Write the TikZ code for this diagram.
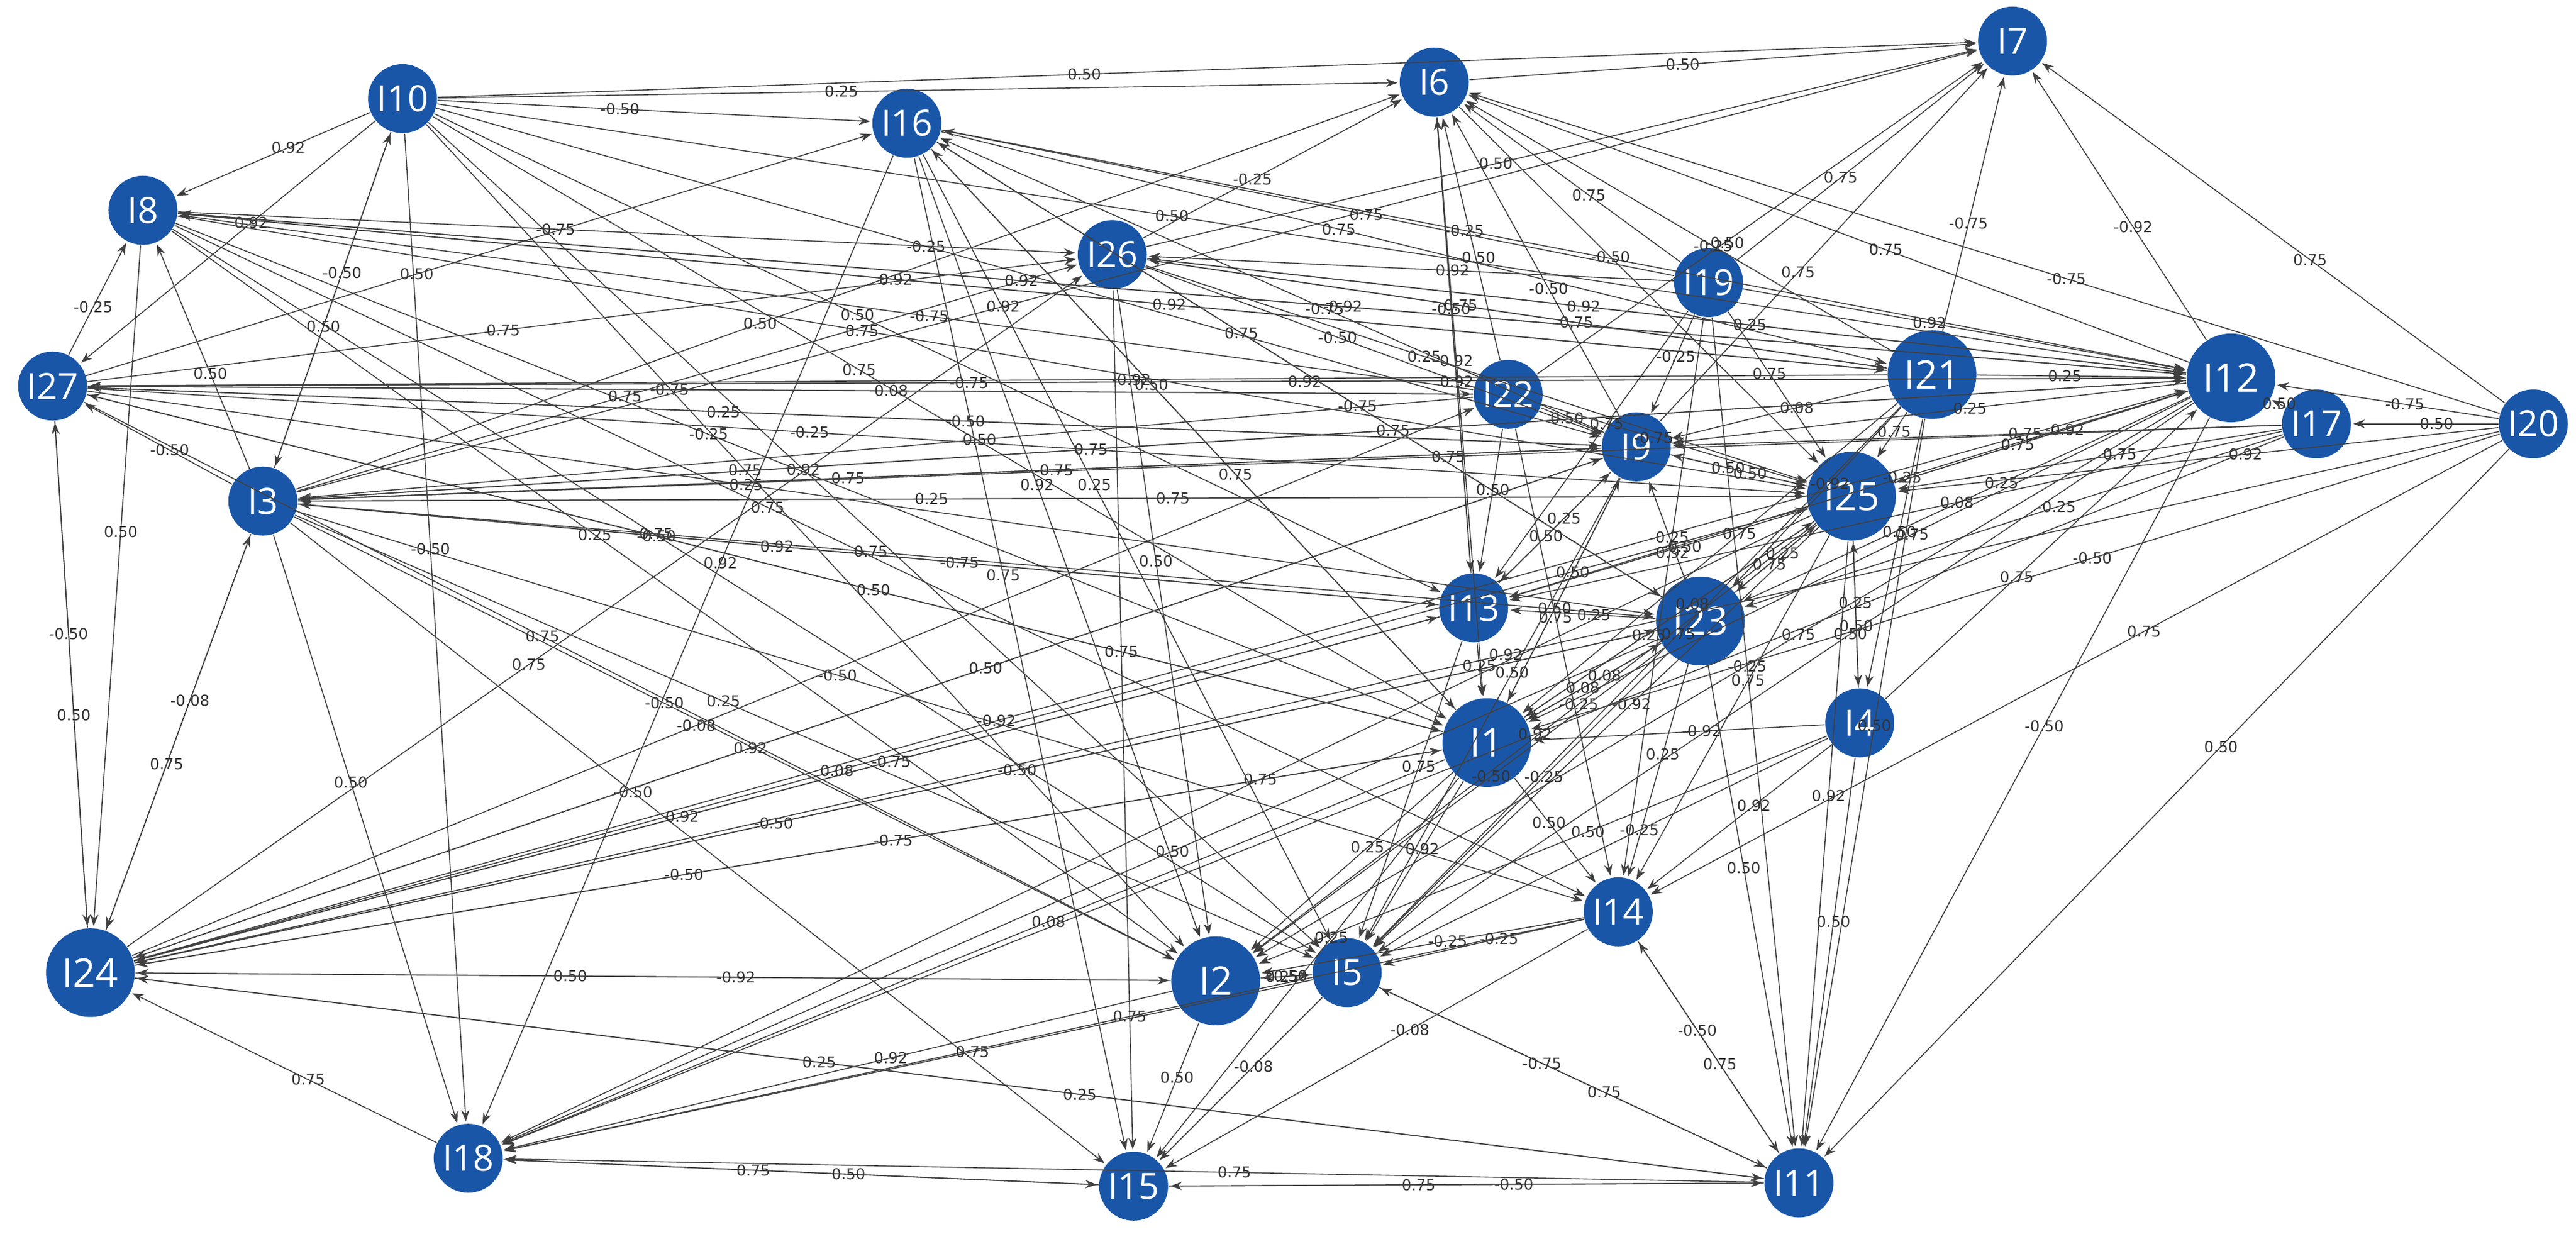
\documentclass[tikz,border=0pt]{standalone}
\usepackage{fontspec}
\setmainfont{Open Sans}
\newfontfamily\lblfont{DejaVu Sans}
\usetikzlibrary{arrows.meta}
\definecolor{nodeblue}{HTML}{1A56A8}
\begin{document}
\begin{tikzpicture}[x=0.5pt,y=-0.5pt,
  nd/.style={circle,fill=nodeblue,text=white,inner sep=0pt,minimum size=21pt,font=\fontsize{11}{11}\selectfont},
  bg/.style={nd,minimum size=27pt,font=\fontsize{12}{12}\selectfont},
  ed/.style={-{Stealth[length=3.5pt,width=2.5pt]},draw=black!75,line width=0.3pt,shorten >=0.5pt},
  lb/.style={font=\lblfont\fontsize{4.6}{5}\selectfont,text=black!80,inner sep=0.5pt,pos=0.42}]
\useasboundingbox (0,0) rectangle (1568,757);
\node[nd] (I7) at (1225,25) {I7};
\node[nd] (I10) at (245,60) {I10};
\node[nd] (I6) at (873,50) {I6};
\node[nd] (I16) at (552,75) {I16};
\node[nd] (I8) at (87,128) {I8};
\node[nd] (I26) at (677,155) {I26};
\node[nd] (I19) at (1040,172) {I19};
\node[nd] (I27) at (32,235) {I27};
\node[nd] (I22) at (918,240) {I22};
\node[bg] (I21) at (1176,228) {I21};
\node[bg] (I12) at (1358,230) {I12};
\node[nd] (I17) at (1410,258) {I17};
\node[nd] (I20) at (1542,258) {I20};
\node[nd] (I9) at (996,272) {I9};
\node[nd] (I3) at (160,305) {I3};
\node[bg] (I25) at (1127,302) {I25};
\node[nd] (I13) at (897,370) {I13};
\node[bg] (I23) at (1035,378) {I23};
\node[bg] (I1) at (905,452) {I1};
\node[nd] (I4) at (1132,440) {I4};
\node[nd] (I14) at (985,555) {I14};
\node[bg] (I24) at (55,592) {I24};
\node[bg] (I2) at (740,597) {I2};
\node[nd] (I5) at (820,592) {I5};
\node[nd] (I18) at (285,705) {I18};
\node[nd] (I15) at (690,722) {I15};
\node[nd] (I11) at (1095,720) {I11};
\foreach \a/\b/\l in {
I10/I7/0.50,I10/I6/0.25,I10/I16/-0.50,I10/I8/0.92,I10/I27/0.92,I10/I18/-0.50,I10/I3/-0.50,I10/I13/0.50,I10/I1/0.75,I10/I5/0.92,I10/I2/0.75,I10/I12/0.50,I10/I9/-0.25,
I8/I26/-0.75,I8/I12/0.92,I8/I21/0.92,I8/I25/0.75,I8/I1/-0.25,I8/I2/0.25,I8/I24/0.50,I8/I5/-0.75,I8/I14/0.75,
I27/I8/-0.25,I27/I24/-0.50,I27/I12/-0.75,I27/I9/0.25,I27/I22/-0.75,I27/I23/0.25,I27/I25/-0.25,I27/I2/0.75,I27/I1/-0.50,I27/I26/0.75,I27/I16/0.50,
I3/I10/0.50,I3/I8/0.50,I3/I27/-0.50,I3/I24/-0.08,I3/I18/0.50,I3/I15/-0.50,I3/I12/0.75,I3/I25/0.25,I3/I9/-0.75,I3/I13/0.92,I3/I23/-0.75,I3/I26/0.75,I3/I6/0.50,I3/I2/-0.50,I3/I5/0.25,I3/I14/-0.50,I3/I7/0.92,
I24/I3/0.75,I24/I27/0.50,I24/I2/0.50,I24/I1/-0.50,I24/I25/0.08,I24/I23/-0.50,I24/I9/0.92,I24/I12/-0.92,I24/I11/0.25,I24/I13/0.92,I24/I22/-0.08,I24/I26/0.75,
I16/I2/0.92,I16/I15/0.75,I16/I1/0.50,I16/I5/0.25,I16/I23/0.75,I16/I12/-0.25,I16/I21/0.75,I16/I18/0.92,
I26/I12/0.92,I26/I21/-0.75,I26/I25/0.25,I26/I9/-0.50,I26/I15/0.75,I26/I2/0.50,I26/I7/0.50,I26/I6/-0.25,
I6/I7/0.50,I6/I13/-0.50,I6/I1/0.92,I6/I25/-0.50,
I19/I7/0.75,I19/I6/0.75,I19/I16/0.75,I19/I26/0.92,I19/I12/0.92,I19/I25/0.75,I19/I9/-0.25,I19/I14/-0.92,I19/I13/0.75,I19/I11/-0.25,
I22/I9/0.50,I22/I25/-0.75,I22/I13/0.50,I22/I7/-0.50,I22/I8/-0.75,I22/I27/0.08,I22/I3/0.50,I22/I6/-0.50,I22/I14/0.75,
I21/I7/-0.75,I21/I6/-0.25,I21/I8/0.92,I21/I27/-0.92,I21/I9/0.08,I21/I25/0.75,I21/I23/-0.92,I21/I1/0.75,I21/I5/0.75,I21/I11/0.50,I21/I26/0.75,I21/I4/0.50,I21/I12/0.25,
I12/I7/-0.92,I12/I6/0.75,I12/I26/0.25,I12/I27/0.92,I12/I9/0.25,I12/I25/-0.92,I12/I23/0.25,I12/I1/0.75,I12/I2/0.75,I12/I5/0.50,I12/I11/-0.50,I12/I3/0.75,I12/I8/-0.92,I12/I13/-0.25,
I17/I12/0.50,I17/I25/0.75,I17/I9/0.75,I17/I3/0.75,I17/I23/-0.25,I17/I18/0.92,I17/I13/0.08,
I20/I7/0.75,I20/I12/-0.75,I20/I17/0.50,I20/I6/-0.75,I20/I11/0.50,I20/I14/0.75,I20/I24/0.92,I20/I25/0.92,I20/I1/-0.50,
I9/I6/-0.50,I9/I7/0.75,I9/I16/-0.75,I9/I3/-0.75,I9/I27/-0.50,I9/I13/0.25,I9/I1/0.50,I9/I25/0.50,I9/I5/0.50,I9/I24/0.50,
I25/I9/0.50,I25/I3/0.75,I25/I12/0.75,I25/I1/0.08,I25/I2/-0.25,I25/I5/-0.92,I25/I14/0.75,I25/I11/0.92,I25/I18/0.75,I25/I13/-0.50,I25/I23/0.25,I25/I4/0.25,
I13/I6/0.92,I13/I9/0.50,I13/I1/0.25,I13/I5/0.75,I13/I24/-0.75,I13/I3/-0.75,
I23/I16/-0.75,I23/I9/-0.25,I23/I1/0.08,I23/I13/0.25,I23/I25/0.75,I23/I14/0.25,I23/I2/-0.50,I23/I5/-0.25,I23/I11/0.50,I23/I24/-0.50,I23/I18/0.50,
I1/I16/0.75,I1/I9/0.50,I1/I14/0.50,I1/I2/0.25,I1/I5/0.92,I1/I24/-0.75,I1/I18/0.08,I1/I15/0.25,I1/I25/-0.25,I1/I23/0.08,I1/I27/0.50,
I4/I14/0.92,I4/I11/0.50,I4/I5/-0.25,I4/I2/0.50,I4/I25/0.50,I4/I1/-0.92,I4/I12/0.75,
I14/I5/-0.25,I14/I15/-0.08,I14/I11/-0.50,I14/I2/-0.25,I14/I18/0.75,
I2/I24/-0.92,I2/I18/0.92,I2/I15/0.50,I2/I5/0.25,
I5/I15/-0.08,I5/I11/-0.75,I5/I18/0.75,I5/I2/0.50,
I18/I15/0.75,I18/I24/0.75,I15/I18/0.50,I15/I11/0.75,
I11/I15/-0.50,I11/I24/0.25,I11/I5/0.75,I11/I14/0.75,I11/I18/0.75}
{\draw[ed] (\a) -- node[lb]{\l} (\b);}
\end{tikzpicture}
\end{document}
